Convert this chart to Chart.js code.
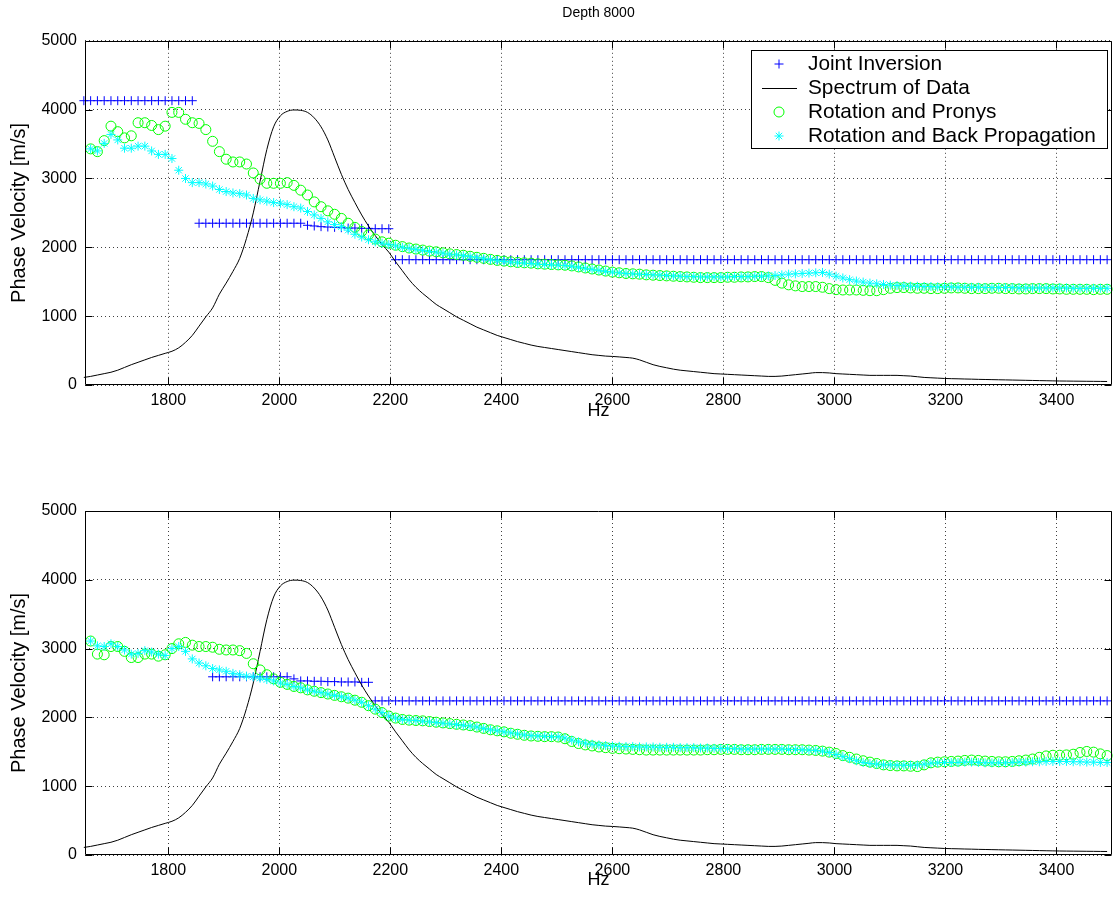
<!DOCTYPE html>
<html>
<head>
<meta charset="utf-8">
<title>Depth 8000</title>
<script src="https://cdn.jsdelivr.net/npm/chart.js@4/dist/chart.umd.min.js"></script>
<style>
  html, body { margin: 0; padding: 0; background: #fff; }
  #wrap { position: relative; width: 1118px; height: 909px; }
  canvas { position: absolute; left: 0; }
  #cTop { top: 0; }
  #cBot { top: 455px; }
</style>
</head>
<body>
<div id="wrap">
  <canvas id="cTop" width="1118" height="455"></canvas>
  <canvas id="cBot" width="1118" height="454"></canvas>
</div>
<script>
// FFT bins 135..286, 12.207 Hz apart
const firstBin = 135;
const binHz = 12.207;

const xTicks = [1800, 2000, 2200, 2400, 2600, 2800, 3000, 3200, 3400];
const yTicks = [0, 1000, 2000, 3000, 4000, 5000];

// amplitude spectrum of the data, scaled to the velocity axis (same in both panels)
const spectrum = [
  110, 125, 145, 165, 185, 215, 255, 295, 330, 365,
  400, 430, 460, 490, 540, 620, 720, 855, 990, 1120,
  1320, 1480, 1650, 1840, 2130, 2500, 2960, 3420, 3750, 3910,
  3975, 3995, 3990, 3960, 3880, 3750, 3560, 3310, 3060, 2840,
  2650, 2470, 2310, 2170, 2040, 1930, 1790, 1660, 1530, 1420,
  1330, 1250, 1170, 1110, 1050, 990, 940, 890, 840, 800,
  760, 720, 690, 660, 630, 605, 580, 560, 545, 530,
  515, 500, 485, 470, 455, 440, 430, 420, 415, 408,
  400, 390, 365, 330, 295, 270, 250, 230, 215, 205,
  195, 185, 175, 165, 160, 155, 150, 145, 140, 135,
  130, 125, 125, 130, 140, 150, 160, 170, 180, 180,
  175, 165, 160, 155, 150, 145, 140, 140, 140, 140,
  140, 135, 130, 120, 110, 105, 100, 95, 92, 90,
  87, 85, 82, 80, 78, 76, 74, 72, 70, 68,
  66, 64, 62, 60, 58, 57, 56, 55, 54, 53,
  52, 51
];

// upper panel
const jointTop = [
  4130, 4130, 4130, 4130, 4130, 4130, 4130, 4130, 4130, 4130,
  4130, 4130, 4130, 4130, 4130, 4130, 4130, 2350, 2350, 2350,
  2350, 2350, 2350, 2350, 2350, 2350, 2350, 2350, 2350, 2350,
  2350, 2350, 2350, 2320, 2310, 2300, 2295, 2290, 2285, 2280,
  2280, 2275, 2275, 2270, 2270, 2270, 1820, 1820, 1820, 1820,
  1820, 1820, 1820, 1820, 1820, 1820, 1820, 1820, 1820, 1820,
  1820, 1820, 1820, 1820, 1820, 1820, 1820, 1820, 1820, 1820,
  1820, 1820, 1820, 1820, 1820, 1820, 1820, 1820, 1820, 1820,
  1820, 1820, 1820, 1820, 1820, 1820, 1820, 1820, 1820, 1820,
  1820, 1820, 1820, 1820, 1820, 1820, 1820, 1820, 1820, 1820,
  1820, 1820, 1820, 1820, 1820, 1820, 1820, 1820, 1820, 1820,
  1820, 1820, 1820, 1820, 1820, 1820, 1820, 1820, 1820, 1820,
  1820, 1820, 1820, 1820, 1820, 1820, 1820, 1820, 1820, 1820,
  1820, 1820, 1820, 1820, 1820, 1820, 1820, 1820, 1820, 1820,
  1820, 1820, 1820, 1820, 1820, 1820, 1820, 1820, 1820, 1820,
  1820, 1820
];

const pronysTop = [
  null,
  3430, 3390, 3550, 3760, 3680, 3590, 3620, 3810, 3810, 3770,
  3710, 3760, 3960, 3960, 3860, 3810, 3800, 3710, 3540, 3390,
  3280, 3240, 3240, 3210, 3080, 2990, 2930, 2930, 2930, 2940,
  2900, 2830, 2760, 2660, 2590, 2530, 2480, 2420, 2350, 2290,
  2230, 2180, 2120, 2080, 2060, 2030, 2010, 1990, 1975, 1960,
  1945, 1935, 1920, 1905, 1895, 1885, 1870, 1855, 1840, 1825,
  1810, 1800, 1790, 1780, 1775, 1770, 1760, 1755, 1750, 1745,
  1740, 1730, 1715, 1700, 1685, 1670, 1655, 1640, 1630, 1620,
  1615, 1610, 1600, 1595, 1590, 1585, 1580, 1575, 1570, 1565,
  1560, 1560, 1560, 1560, 1565, 1565, 1570, 1570, 1575, 1575,
  1560, 1520, 1480, 1455, 1440, 1430, 1430, 1430, 1420, 1400,
  1385, 1380, 1380, 1380, 1375, 1370, 1370, 1385, 1405, 1415,
  1415, 1410, 1405, 1405, 1400, 1400, 1405, 1410, 1410, 1405,
  1400, 1400, 1400, 1405, 1405, 1400, 1400, 1395, 1395, 1400,
  1400, 1400, 1395, 1395, 1390, 1390, 1390, 1390, 1385, 1390,
  1390
];

const backPropTop = [
  null,
  3430, 3400, 3510, 3640, 3560, 3440, 3440, 3470, 3470, 3400,
  3350, 3350, 3290, 3120, 3000, 2940, 2940, 2920, 2890, 2840,
  2810, 2790, 2780, 2760, 2710, 2690, 2670, 2650, 2640, 2620,
  2590, 2570, 2520, 2470, 2420, 2370, 2330, 2300, 2250, 2190,
  2150, 2110, 2080, 2060, 2040, 2020, 2000, 1985, 1970, 1955,
  1940, 1930, 1915, 1900, 1890, 1880, 1865, 1850, 1835, 1820,
  1805, 1795, 1785, 1775, 1770, 1765, 1755, 1750, 1745, 1740,
  1735, 1725, 1710, 1695, 1680, 1665, 1650, 1640, 1630, 1620,
  1615, 1610, 1605, 1600, 1595, 1590, 1585, 1580, 1575, 1575,
  1570, 1570, 1570, 1570, 1570, 1575, 1575, 1575, 1580, 1580,
  1585, 1590, 1600, 1610, 1615, 1620, 1625, 1630, 1635, 1610,
  1580, 1555, 1530, 1510, 1495, 1480, 1470, 1460, 1450, 1445,
  1440, 1435, 1435, 1430, 1430, 1425, 1425, 1425, 1420, 1420,
  1420, 1420, 1415, 1415, 1415, 1415, 1415, 1410, 1410, 1410,
  1410, 1410, 1410, 1410, 1410, 1405, 1405, 1405, 1405, 1405,
  1405
];

// lower panel
const jointBottom = [
  null, null, null, null, null, null, null, null, null, null,
  null, null, null, null, null, null, null, null, null, 2590,
  2590, 2590, 2590, 2590, 2590, 2590, 2590, 2590, 2590, 2590,
  2590, 2560, 2530, 2530, 2525, 2525, 2520, 2520, 2515, 2515,
  2515, 2510, 2510, 2240, 2240, 2240, 2240, 2240, 2240, 2240,
  2240, 2240, 2240, 2240, 2240, 2240, 2240, 2240, 2240, 2240,
  2240, 2240, 2240, 2240, 2240, 2240, 2240, 2240, 2240, 2240,
  2240, 2240, 2240, 2240, 2240, 2240, 2240, 2240, 2240, 2240,
  2240, 2240, 2240, 2240, 2240, 2240, 2240, 2240, 2240, 2240,
  2240, 2240, 2240, 2240, 2240, 2240, 2240, 2240, 2240, 2240,
  2240, 2240, 2240, 2240, 2240, 2240, 2240, 2240, 2240, 2240,
  2240, 2240, 2240, 2240, 2240, 2240, 2240, 2240, 2240, 2240,
  2240, 2240, 2240, 2240, 2240, 2240, 2240, 2240, 2240, 2240,
  2240, 2240, 2240, 2240, 2240, 2240, 2240, 2240, 2240, 2240,
  2240, 2240, 2240, 2240, 2240, 2240, 2240, 2240, 2240, 2240,
  2240, 2240
];

const pronysBottom = [
  null,
  3110, 2920, 2910, 3030, 3030, 2960, 2870, 2870, 2920, 2920,
  2890, 2910, 3000, 3070, 3090, 3050, 3030, 3030, 3020, 2990,
  2980, 2980, 2970, 2930, 2780, 2690, 2620, 2560, 2510, 2480,
  2450, 2430, 2400, 2380, 2360, 2340, 2320, 2300, 2280, 2250,
  2220, 2170, 2120, 2070, 2020, 1990, 1970, 1960, 1955, 1950,
  1940, 1930, 1920, 1910, 1900, 1890, 1880, 1860, 1840, 1820,
  1805, 1790, 1770, 1755, 1740, 1730, 1725, 1720, 1720, 1715,
  1690, 1650, 1620, 1600, 1585, 1570, 1560, 1550, 1545, 1540,
  1535, 1530, 1525, 1525, 1525, 1525, 1525, 1525, 1525, 1525,
  1525, 1530, 1530, 1535, 1535, 1535, 1530, 1530, 1530, 1535,
  1535, 1535, 1535, 1530, 1530, 1530, 1525, 1520, 1510, 1495,
  1475, 1445, 1420, 1395, 1370, 1350, 1330, 1310, 1300, 1295,
  1295, 1290, 1285, 1310, 1340, 1350, 1355, 1360, 1365, 1375,
  1380, 1375, 1365, 1360, 1355, 1355, 1360, 1370, 1380, 1395,
  1420, 1440, 1450, 1450, 1455, 1465, 1490, 1505, 1495, 1470,
  1445
];

const backPropBottom = [
  null,
  3110, 3040, 3030, 3070, 3030, 2980, 2920, 2930, 2970, 2950,
  2920, 2900, 3000, 3030, 2960, 2850, 2790, 2750, 2710, 2690,
  2670, 2640, 2620, 2600, 2590, 2570, 2550, 2530, 2500, 2480,
  2450, 2430, 2400, 2380, 2360, 2340, 2320, 2300, 2280, 2250,
  2220, 2170, 2120, 2070, 2020, 1990, 1970, 1960, 1955, 1945,
  1935, 1925, 1915, 1905, 1895, 1885, 1875, 1860, 1840, 1820,
  1805, 1790, 1775, 1760, 1745, 1735, 1730, 1725, 1720, 1720,
  1700, 1670, 1645, 1625, 1610, 1600, 1590, 1585, 1580, 1575,
  1575, 1570, 1570, 1570, 1565, 1565, 1565, 1560, 1560, 1560,
  1555, 1555, 1550, 1550, 1545, 1545, 1540, 1540, 1540, 1540,
  1540, 1540, 1540, 1535, 1535, 1530, 1525, 1520, 1510, 1490,
  1460, 1430, 1400, 1370, 1345, 1330, 1320, 1310, 1310, 1305,
  1305, 1305, 1310, 1320, 1335, 1340, 1345, 1345, 1345, 1350,
  1350, 1345, 1340, 1340, 1340, 1340, 1345, 1350, 1350, 1355,
  1355, 1360, 1360, 1360, 1360, 1355, 1355, 1350, 1350, 1345,
  1345
];

const freqHz = spectrum.map((_, j) => (firstBin + j) * binHz);

function toPoints(values) {
  return values.map((v, j) => ({ x: freqHz[j], y: v }));
}

const FONT_FAMILY = '"Liberation Sans", Arial, Helvetica, sans-serif';
Chart.defaults.font.family = FONT_FAMILY;
Chart.defaults.color = '#000';

function makeDatasets(joint, pronys, backProp) {
  return [
    {
      label: 'Joint Inversion', data: toPoints(joint), showLine: false,
      pointStyle: 'cross', pointRadius: 4.5, pointBorderWidth: 1,
      pointBorderColor: '#0000ff', borderColor: '#0000ff', order: 4, clip: 6
    },
    {
      label: 'Spectrum of Data', data: toPoints(spectrum), showLine: true,
      borderColor: '#000', borderWidth: 1, pointRadius: 0,
      cubicInterpolationMode: 'monotone', fill: false, order: 3, clip: 6
    },
    {
      label: 'Rotation and Pronys', data: toPoints(pronys), showLine: false,
      pointStyle: 'circle', pointRadius: 5, pointBorderWidth: 1,
      pointBorderColor: '#00ff00', pointBackgroundColor: 'rgba(0,0,0,0)',
      borderColor: '#00ff00', order: 2, clip: 6
    },
    {
      label: 'Rotation and Back Propagation', data: toPoints(backProp), showLine: false,
      pointStyle: 'star', pointRadius: 4.5, pointBorderWidth: 1,
      pointBorderColor: '#00ffff', borderColor: '#00ffff', order: 1, clip: 6
    }
  ];
}

// box around the axes plus inward tick marks on all four sides
const axesBox = {
  id: 'axesBox',
  afterDraw(chart) {
    const { ctx, chartArea: a, scales: { x, y } } = chart;
    const L = Math.round(a.left) + 0.5, R = Math.round(a.right) - 0.5;
    const T = Math.round(a.top) + 0.5, B = Math.round(a.bottom) - 0.5;
    const len = 7;
    ctx.save();
    ctx.strokeStyle = '#000';
    ctx.lineWidth = 1;
    ctx.beginPath();
    ctx.moveTo(L, T); ctx.lineTo(R, T); ctx.lineTo(R, B); ctx.lineTo(L, B); ctx.closePath();
    xTicks.forEach(v => {
      const px = Math.round(x.getPixelForValue(v)) + 0.5;
      ctx.moveTo(px, B); ctx.lineTo(px, B - len);
      ctx.moveTo(px, T); ctx.lineTo(px, T + len);
    });
    yTicks.forEach(v => {
      const py = Math.round(y.getPixelForValue(v)) + 0.5;
      ctx.moveTo(L, py); ctx.lineTo(L + len, py);
      ctx.moveTo(R, py); ctx.lineTo(R - len, py);
    });
    ctx.stroke();
    ctx.restore();
  }
};

// legend drawn as a framed box inside the upper axes
const boxLegend = {
  id: 'boxLegend',
  afterDraw(chart, args, opts) {
    if (!opts || !opts.show) return;
    const { ctx } = chart;
    const left = 751, top = 50, right = 1108, bottom = 149;
    ctx.save();
    ctx.fillStyle = '#fff';
    ctx.fillRect(left, top, right - left, bottom - top);
    ctx.strokeStyle = '#000';
    ctx.lineWidth = 1;
    ctx.strokeRect(left + 0.5, top + 0.5, right - left - 1, bottom - top - 1);
    ctx.font = '20.8px ' + FONT_FAMILY;
    ctx.textBaseline = 'middle';
    ctx.textAlign = 'left';
    chart.data.datasets.forEach((ds, i) => {
      const cy = top + 14 + i * 24;
      const cx = 779;
      ctx.strokeStyle = ds.showLine ? ds.borderColor : ds.pointBorderColor;
      ctx.lineWidth = 1;
      if (ds.showLine) {
        ctx.beginPath();
        ctx.moveTo(762, cy + 0.5); ctx.lineTo(797, cy + 0.5);
        ctx.stroke();
      } else {
        ctx.fillStyle = 'rgba(0,0,0,0)';
        Chart.helpers.drawPoint(ctx, {
          pointStyle: ds.pointStyle, radius: ds.pointRadius,
          rotation: 0, borderWidth: 1
        }, cx, cy);
      }
      ctx.fillStyle = '#000';
      ctx.fillText(ds.label, 808, cy);
    });
    ctx.restore();
  }
};

function buildOptions(cfg) {
  const tickFont = { family: FONT_FAMILY, size: 16 };
  return {
    responsive: false,
    animation: false,
    devicePixelRatio: 1,
    events: [],
    layout: { padding: { left: 0, right: 2, top: cfg.padTop, bottom: 0 } },
    plugins: {
      legend: { display: false },
      tooltip: { enabled: false },
      title: {
        display: !!cfg.title,
        text: cfg.title || '',
        fullSize: false,
        color: '#000',
        font: { family: FONT_FAMILY, size: 14, weight: 'normal' },
        padding: { top: 5, bottom: 19 }
      },
      boxLegend: { show: !!cfg.legend }
    },
    scales: {
      x: {
        type: 'linear',
        min: 1650,
        max: 3500,
        afterBuildTicks: s => { s.ticks = xTicks.map(v => ({ value: v })); },
        afterFit: s => { s.height = cfg.xHeight; },
        ticks: {
          padding: 6, font: tickFont, color: '#000',
          maxRotation: 0, autoSkip: false, callback: v => String(v)
        },
        grid: { color: 'rgba(0,0,0,0.75)', lineWidth: 1, drawTicks: false },
        border: { display: false, dash: [1, 3] },
        title: {
          display: true, text: 'Hz', color: '#000',
          font: { family: FONT_FAMILY, size: 18 },
          padding: { top: 0, bottom: cfg.xTitlePad }
        }
      },
      y: {
        type: 'linear',
        min: 0,
        max: 5000,
        afterBuildTicks: s => { s.ticks = yTicks.map(v => ({ value: v })); },
        afterFit: s => { s.width = 85; },
        ticks: { padding: 8, font: tickFont, color: '#000', callback: v => String(v) },
        grid: { color: 'rgba(0,0,0,0.75)', lineWidth: 1, drawTicks: false },
        border: { display: false, dash: [1, 3] },
        title: {
          display: true, text: 'Phase Velocity [m/s]', color: '#000',
          font: { family: FONT_FAMILY, size: 20 },
          padding: { top: 7, bottom: 0 }
        }
      }
    }
  };
}

new Chart(document.getElementById('cTop'), {
  type: 'line',
  data: { datasets: makeDatasets(jointTop, pronysTop, backPropTop) },
  options: buildOptions({ title: 'Depth 8000', legend: true, padTop: 0, xHeight: 70, xTitlePad: 33 }),
  plugins: [axesBox, boxLegend]
});

new Chart(document.getElementById('cBot'), {
  type: 'line',
  data: { datasets: makeDatasets(jointBottom, pronysBottom, backPropBottom) },
  options: buildOptions({ title: null, legend: false, padTop: 56, xHeight: 54, xTitlePad: 18 }),
  plugins: [axesBox, boxLegend]
});
</script>
</body>
</html>
